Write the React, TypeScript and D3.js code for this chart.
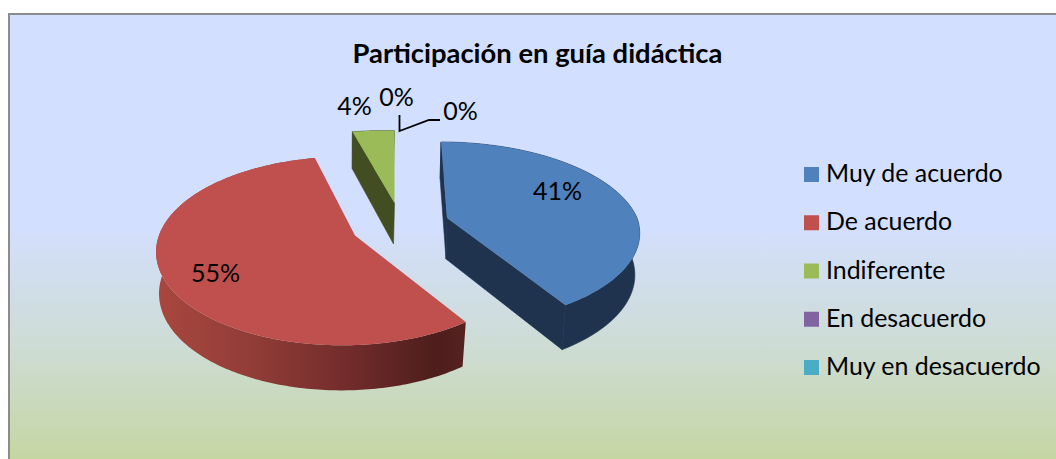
import React from "react";
import * as d3 from "d3";

const categories = ["Muy de acuerdo", "De acuerdo", "Indiferente", "En desacuerdo", "Muy en desacuerdo"];
const values = [41, 55, 4, 0, 0];
const colors = ["#4f81bd", "#c0504d", "#9bbb59", "#8064a2", "#4bacc6"];
const sideColors = ["#1f334f", "url(#redWall)", "#424e21", "#4d3c62", "#2d6776"];
const title = "Participación en guía didáctica";

const W = 1056, H = 459;
const FONT = "Lato, Carlito, sans-serif";

// Each exploded slice has its own anchor in the perspective view
const anchors = [
  { cx: 447, cy: 218, a: 190, b: 88.7, s: -6, k: 0.167, m: 0 },
  { cx: 355, cy: 235.5, a: 184.5, b: 91.5, s: 0, k: 0.165, m: 0.059 },
  { cx: 394.5, cy: 203, a: 198, b: 86, s: 0, k: 0.19, m: 0.059 },
  { cx: 395, cy: 203, a: 198, b: 86, s: 0, k: 0.19, m: 0.059 },
  { cx: 395, cy: 203, a: 198, b: 86, s: 0, k: 0.19, m: 0.059 },
];
const labelPos = [
  { x: 557.5, y: 200 },
  { x: 215.5, y: 282 },
  { x: 354.5, y: 115 },
  { x: 396.5, y: 106 },
  { x: 460.5, y: 120 },
];

type P = [number, number];
type An = (typeof anchors)[number];

function project(t: number, r: number, an: An, drop: number): P {
  const u = Math.sin(t) * r, v = Math.cos(t) * r;
  const den = 1 + an.k * v + an.m * u;
  const dx = (an.a * u) / den + an.s * Math.max(0, v);
  const y = an.cy - (an.b * v) / den;
  const depth = drop * (41 * (1 - 0.1 * v));
  // the lower rim sits further from the camera, so it is slightly narrower
  return [an.cx + dx * (1 - 0.02 * drop) - drop, y + depth];
}

const line = d3.line<P>().x((d) => d[0]).y((d) => d[1]);

export default function App() {
  const arcs = d3.pie<number>().sort(null)(values);
  const legendY = d3.scalePoint<string>().domain(categories).range([174.5, 367.5]);
  const slices = arcs.map((arc, i) => {
    const an = anchors[i];
    const n = Math.max(2, Math.ceil((arc.endAngle - arc.startAngle) * 60));
    const ts = d3.range(n + 1).map((j) => arc.startAngle + ((arc.endAngle - arc.startAngle) * j) / n);
    const topRim = ts.map((t) => project(t, 1, an, 0));
    const botRim = ts.map((t) => project(t, 1, an, 1));
    const apexT = project(0, 0, an, 0), apexB = project(0, 0, an, 1);
    const wall = line([...topRim, ...botRim.slice().reverse()]) + "Z";
    const face1 = line([apexT, topRim[0], botRim[0], apexB]) + "Z";
    const face2 = line([apexT, topRim[n], botRim[n], apexB]) + "Z";
    const top = line([apexT, ...topRim]) + "Z";
    return { i, wall, face1, face2, top };
  });
  const order = [1, 0, 2];

  return (
    <svg width={W} height={H} style={{ position: "absolute", left: 0, top: 0, display: "block" }}>
      <defs>
        <linearGradient id="bg" x1="0" y1="14" x2="0" y2="459" gradientUnits="userSpaceOnUse">
          <stop offset="0" stopColor="#d3dfff" />
          <stop offset="0.47" stopColor="#d3dfff" />
          <stop offset="0.76" stopColor="#cddcd2" />
          <stop offset="1" stopColor="#c5d6a3" />
        </linearGradient>
        <linearGradient id="redWall" x1="156" y1="0" x2="466" y2="0" gradientUnits="userSpaceOnUse">
          <stop offset="0" stopColor="#a9473f" />
          <stop offset="0.3" stopColor="#923d38" />
          <stop offset="0.62" stopColor="#722c2b" />
          <stop offset="0.9" stopColor="#4d1e1c" />
          <stop offset="1" stopColor="#552220" />
        </linearGradient>
      </defs>
      <rect x={0} y={0} width={W} height={H} fill="#fff" />
      <rect x={9} y={14} width={W} height={H} fill="url(#bg)" stroke="#8c8c8c" strokeWidth={2} />
      <text x={537.5} y={63} textAnchor="middle" fontFamily={FONT} fontWeight={700} fontSize={27.4} fill="#000">{title}</text>
      {order.map((i) => {
        const s = slices[i];
        const seam = i === 1 ? {} : { stroke: sideColors[i], strokeWidth: 0.6 };
        return (
          <g key={categories[i]}>
            <path d={s.wall} fill={sideColors[i]} {...seam} />
            {i !== 1 && <path d={s.face1} fill={sideColors[i]} {...seam} />}
            {i === 0 && <path d={s.face2} fill={sideColors[i]} {...seam} />}
            <path d={s.top} fill={colors[i]} />
          </g>
        );
      })}
      <path d="M399.5,115V131L429,120H440" fill="none" stroke="#000" strokeWidth={1.8} />
      {values.map((v, i) => (
        <text key={i} x={labelPos[i].x} y={labelPos[i].y} textAnchor="middle" fontFamily={FONT} fontSize={25} fill="#000">{v}%</text>
      ))}
      {categories.map((c, i) => (
        <g key={c}>
          <rect x={804} y={legendY(c)! - 7.5} width={15} height={15} fill={colors[i]} />
          <text x={826} y={legendY(c)! + 7.5} fontFamily={FONT} fontSize={24.9} fill="#000">{c}</text>
        </g>
      ))}
    </svg>
  );
}
